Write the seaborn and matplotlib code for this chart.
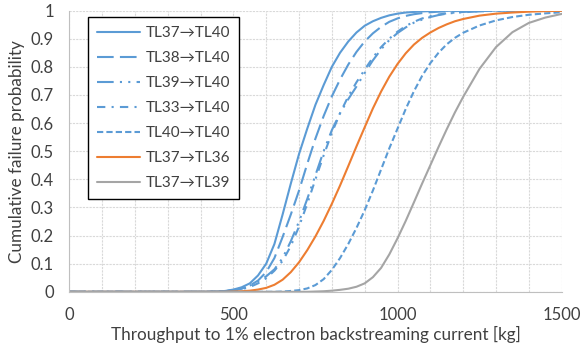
import matplotlib
matplotlib.use("Agg")
import matplotlib.pyplot as plt
import pandas as pd
import seaborn as sns

# throughput [kg] at which the curves were read
throughput = [0, 400, 450, 475, 500, 525, 550, 575, 600, 625, 650, 675, 700, 725,
              750, 775, 800, 825, 850, 875, 900, 925, 950, 975, 1000, 1025, 1050,
              1075, 1100, 1125, 1150, 1175, 1200, 1250, 1300, 1350, 1400, 1450, 1500]

tl37_tl40 = [0, 0, 0.001, 0.003, 0.008, 0.016, 0.03, 0.058, 0.10, 0.17, 0.275, 0.385, 0.49,
             0.58, 0.665, 0.735, 0.80, 0.85, 0.89, 0.922, 0.946, 0.962, 0.974, 0.983, 0.989,
             0.993, 0.995, 0.997, 0.998, 0.999, 0.999, 1.0, 1.0, 1.0, 1.0, 1.0, 1.0, 1.0, 1.0]
tl38_tl40 = [0, 0, 0.001, 0.002, 0.005, 0.011, 0.022, 0.04, 0.07, 0.12, 0.195, 0.275, 0.36,
             0.455, 0.545, 0.625, 0.695, 0.755, 0.808, 0.853, 0.89, 0.919, 0.942, 0.96, 0.972,
             0.981, 0.987, 0.991, 0.994, 0.996, 0.997, 0.998, 0.999, 1.0, 1.0, 1.0, 1.0, 1.0, 1.0]
tl39_tl40 = [0, 0, 0.001, 0.003, 0.006, 0.012, 0.022, 0.037, 0.055, 0.08, 0.12, 0.18, 0.25,
             0.33, 0.415, 0.5, 0.575, 0.635, 0.685, 0.73, 0.778, 0.823, 0.862, 0.895, 0.92,
             0.94, 0.957, 0.968, 0.977, 0.984, 0.989, 0.992, 0.994, 0.997, 0.999, 1.0, 1.0, 1.0, 1.0]
tl33_tl40 = [0, 0, 0.0, 0.002, 0.004, 0.009, 0.017, 0.03, 0.048, 0.075, 0.11, 0.163, 0.232,
             0.313, 0.40, 0.485, 0.565, 0.635, 0.695, 0.745, 0.79, 0.833, 0.87, 0.90, 0.925,
             0.945, 0.96, 0.972, 0.98, 0.986, 0.99, 0.993, 0.995, 0.998, 1.0, 1.0, 1.0, 1.0, 1.0]
tl40_tl40 = [0, 0, 0, 0, 0, 0, 0, 0, 0, 0, 0.001, 0.003, 0.006, 0.012, 0.024, 0.045, 0.078,
             0.12, 0.17, 0.227, 0.29, 0.36, 0.435, 0.51, 0.58, 0.65, 0.713, 0.768, 0.813, 0.85,
             0.88, 0.903, 0.921, 0.947, 0.965, 0.977, 0.985, 0.99, 0.994]
tl37_tl36 = [0, 0, 0, 0, 0.001, 0.002, 0.004, 0.008, 0.014, 0.025, 0.043, 0.07, 0.105, 0.148,
             0.197, 0.252, 0.313, 0.378, 0.447, 0.517, 0.585, 0.652, 0.712, 0.765, 0.81, 0.848,
             0.879, 0.903, 0.922, 0.938, 0.951, 0.962, 0.97, 0.982, 0.989, 0.993, 0.996, 0.998,
             0.999]
tl37_tl39 = [0, 0, 0, 0, 0, 0, 0, 0, 0, 0, 0, 0, 0, 0, 0.001, 0.002, 0.004, 0.007, 0.011,
             0.018, 0.03, 0.052, 0.085, 0.133, 0.19, 0.252, 0.318, 0.385, 0.45, 0.515, 0.578,
             0.638, 0.693, 0.793, 0.87, 0.923, 0.956, 0.975, 0.988]

labels = ["TL37→TL40", "TL38→TL40", "TL39→TL40", "TL33→TL40",
          "TL40→TL40", "TL37→TL36", "TL37→TL39"]
series = [tl37_tl40, tl38_tl40, tl39_tl40, tl33_tl40, tl40_tl40, tl37_tl36, tl37_tl39]

x_ticks = [0, 500, 1000, 1500]
y_ticks = [0, 0.1, 0.2, 0.3, 0.4, 0.5, 0.6, 0.7, 0.8, 0.9, 1]
y_tick_labels = ["0", "0.1", "0.2", "0.3", "0.4", "0.5", "0.6", "0.7", "0.8", "0.9", "1"]

blue, orange, gray = "#5B9BD5", "#ED7D31", "#A5A5A5"
palette = dict(zip(labels, [blue, blue, blue, blue, blue, orange, gray]))
dashes = dict(zip(labels, ["", (8, 3), (8, 3, 1, 3, 1, 3), (4, 3, 1, 3), (3, 1.5), "", ""]))

rows = []
for name, vals in zip(labels, series):
    for t, p in zip(throughput, vals):
        rows.append({"throughput": t, "prob": p, "series": name})
df = pd.DataFrame(rows)

sns.set_style("white")
plt.rcParams["font.family"] = ["Lato", "DejaVu Sans"]

fig = plt.figure(figsize=(5.82, 3.52), dpi=100)
ax = fig.add_axes([0.119, 0.171, 0.846, 0.799])

sns.lineplot(data=df, x="throughput", y="prob", hue="series", style="series",
             hue_order=labels, style_order=labels, palette=palette, dashes=dashes,
             linewidth=1.5, sort=False, ax=ax)

ax.set_xlim(0, 1500)
ax.set_ylim(0, 1)
ax.set_xticks(x_ticks)
ax.set_xticks(range(0, 1501, 100), minor=True)
ax.set_yticks(y_ticks)
ax.set_yticklabels(y_tick_labels)
ax.tick_params(axis="both", which="both", length=0, labelsize=12, colors="#404040", pad=11)
ax.grid(True, which="both", color="#d9d9d9", linestyle=(0, (2, 1)), linewidth=0.8)
ax.set_axisbelow(True)
for side in ["top", "right"]:
    ax.spines[side].set_visible(False)
for side in ["left", "bottom"]:
    ax.spines[side].set_color("#bfbfbf")
    ax.spines[side].set_linewidth(0.8)

ax.set_xlabel("Throughput to 1% electron backstreaming current [kg]", fontsize=12.3,
              color="#404040", labelpad=2)
ax.set_ylabel("Cumulative failure probability", fontsize=12.3, color="#404040", labelpad=4)

handles, names = ax.get_legend_handles_labels()
leg = ax.legend(handles, names, loc="upper left", bbox_to_anchor=(0.038, 0.977),
                borderaxespad=0, fontsize=11, frameon=True, fancybox=False, framealpha=1,
                edgecolor="black", handlelength=2.8, labelspacing=0.72,
                borderpad=0.6, handletextpad=0.35)
leg.get_frame().set_linewidth(1.0)
for txt in leg.get_texts():
    txt.set_color("#404040")

fig.savefig("out.png", dpi=100)
